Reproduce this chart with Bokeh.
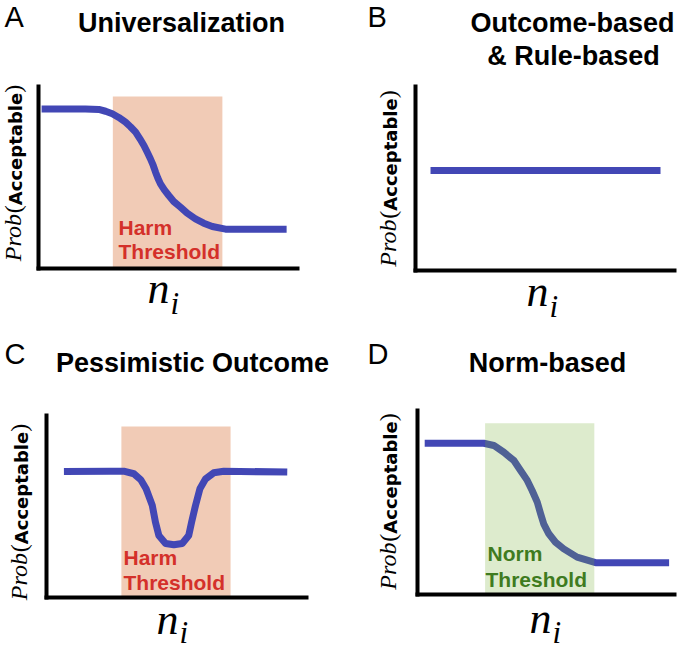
import math
from bokeh.plotting import figure
from bokeh.models import Range1d, Label
from bokeh.layouts import column, row
from bokeh.embed import file_html
from bokeh.resources import INLINE

# ---------------- data (x: 0..100 along n_i, y: 0..100 Prob(Acceptable)) ----------------
# A: Universalization
universal_x = [1.2, 18.1, 23.3, 25.9, 28.5, 31.0, 33.6, 35.5, 37.5, 39.1, 40.7, 42.0, 43.2, 44.3,
               45.2, 46.1, 47.1, 48.6, 50.3, 52.2, 54.8, 57.4, 60.6, 63.8, 67.1, 72.2, 95.8]
universal_y = [87.7, 87.7, 87.4, 86.4, 85.0, 83.0, 80.4, 77.9, 74.9, 71.4, 67.6, 63.9, 60.3, 56.6,
               52.9, 49.6, 46.5, 43.2, 40.1, 36.8, 33.7, 30.4, 27.3, 24.9, 23.1, 21.6, 21.6]
harm_a_left, harm_a_right, harm_a_top = [28.7], [71.0], [94.5]

# B: Outcome-based & Rule-based
flat_x = [5.8, 94.6]
flat_y = [54.3, 54.3]

# C: Pessimistic Outcome
pessimistic_x = [6.7, 24.6, 29.7, 33.6, 36.2, 38.3, 40.7, 41.9, 43.2, 45.8, 49.0, 52.2,
                 54.7, 55.8, 57.3, 59.0, 61.2, 64.3, 68.2, 92.6]
pessimistic_y = [69.2, 69.4, 69.4, 68.0, 64.8, 59.7, 50.5, 41.4, 34.1, 29.7, 29.0, 29.7,
                 34.1, 41.4, 50.5, 59.7, 65.2, 68.5, 69.4, 68.9]
harm_c_left, harm_c_right, harm_c_top = [28.8], [70.8], [94.0]

# D: Norm-based
norm_x = [2.8, 24.6, 25.8, 29.7, 33.6, 37.5, 40.1, 42.7, 44.6, 46.6, 47.9, 49.1, 51.1,
          53.7, 56.9, 62.1, 69.3, 97.9]
norm_y = [82.2, 82.2, 82.2, 81.0, 77.3, 72.8, 67.4, 62.0, 56.5, 50.2, 43.9, 38.4, 33.0,
          28.4, 24.8, 20.3, 17.3, 17.3]
norm_band_left, norm_band_right, norm_band_top = [26.3], [68.8], [93.1]

# axes of every panel (0..100 in both directions)
axis_x0, axis_y0, axis_x1, axis_y1 = [0, 0], [0, 0], [100, 0], [0, 100]

titles = {"A": ["Universalization"], "B": ["Outcome-based", "& Rule-based"],
          "C": ["Pessimistic Outcome"], "D": ["Norm-based"]}
band_texts = {"A": ["Harm", "Threshold"], "C": ["Harm", "Threshold"], "D": ["Norm", "Threshold"]}

# ---------------- styles ----------------
BLUE = "#4247B5"
PEACH = "#F1CBB6"
RED = "#D4302A"
GREEN_FILL = "#77AF37"
GREEN_TEXT = "#3F7B1F"
SANS = "Liberation Sans"
SERIF = "Liberation Serif"
BASELINE_FIX = 0.38   # em; compensates Bokeh's placement of the label baseline

# panel geometry in page pixels (figure origin/size, axis extents)
GEOM = {
    "A": dict(ox=0, oy=0, w=340, h=325, L=38, R=297, T=86, B=268),
    "B": dict(ox=340, oy=0, w=337, h=325, L=415, R=674, T=86, B=270),
    "C": dict(ox=0, oy=325, w=340, h=326, L=46, R=306, T=415, B=597),
    "D": dict(ox=340, oy=325, w=337, h=326, L=417, R=674, T=410, B=594),
}

# text positions (baselines) in page pixels
LAYOUT = {
    "A": dict(letter=(4, 28), title=[(181, 33)], band=[(118, 235), (118, 259)],
              ylab=(22, 172.5), n=(147, 305), i=(170, 315)),
    "B": dict(letter=(367, 28), title=[(572, 33), (573, 66)], band=None,
              ylab=(397, 178), n=(526, 308), i=(549, 318)),
    "C": dict(letter=(4, 365), title=[(192, 373)], band=[(123, 565), (123, 590)],
              ylab=(28, 511.5), n=(156, 636), i=(179, 644)),
    "D": dict(letter=(367, 365), title=[(547, 373)], band=[(487, 561), (485, 587)],
              ylab=(397, 501), n=(529, 635), i=(552, 644)),
}


def make_panel(key):
    g = GEOM[key]
    sx = (g["R"] - g["L"]) / 100.0
    sy = (g["B"] - g["T"]) / 100.0
    x0 = (g["ox"] - g["L"]) / sx
    x1 = (g["ox"] + g["w"] - g["L"]) / sx
    y0 = (g["B"] - (g["oy"] + g["h"])) / sy
    y1 = (g["B"] - g["oy"]) / sy
    p = figure(width=g["w"], height=g["h"], x_range=Range1d(x0, x1), y_range=Range1d(y0, y1),
               output_backend="svg", toolbar_location=None,
               x_axis_type=None, y_axis_type=None,
               min_border=0, min_border_left=0, min_border_right=0,
               min_border_top=0, min_border_bottom=0,
               outline_line_color=None, background_fill_color="white", border_fill_color="white")
    p.grid.visible = False
    return p


def draw_axes(p):
    p.segment(x0=axis_x0, y0=axis_y0, x1=axis_x1, y1=axis_y1,
              line_color="black", line_width=4, line_cap="square")


def to_data(key, px, py):
    g = GEOM[key]
    return ((px - g["L"]) / (g["R"] - g["L"]) * 100, (g["B"] - py) / (g["B"] - g["T"]) * 100)


def add_label(p, key, px, py, text, font, size, style="normal", color="black",
              align="left", angle=0.0):
    if angle == 0.0:
        py = py - BASELINE_FIX * size
    else:
        px = px - BASELINE_FIX * size
    x, y = to_data(key, px, py)
    p.add_layout(Label(x=x, y=y, text=text, text_font=font, text_font_size=f"{size}px",
                       text_font_style=style, text_color=color, text_align=align,
                       text_baseline="alphabetic", angle=angle))


def decorate(p, key, band_color=None):
    lay = LAYOUT[key]
    add_label(p, key, lay["letter"][0], lay["letter"][1], key, SANS, 29)
    for (tx, ty), t in zip(lay["title"], titles[key]):
        add_label(p, key, tx, ty, t, SANS, 27, style="bold", align="center")
    if lay["band"]:
        for (bx, by), t in zip(lay["band"], band_texts[key]):
            add_label(p, key, bx, by, t, SANS, 21, style="bold", color=band_color)
    # rotated y label: Prob(Acceptable)
    pieces = [("Prob", SERIF, "italic", 24, 2.000), ("(", SERIF, "normal", 24, 0.333),
              ("Acceptable", "DejaVu Sans", "bold", 18, 6.244), (")", SERIF, "normal", 24, 0.333)]
    total = sum(s * w for _, _, _, s, w in pieces)
    bx, cy = lay["ylab"]
    cur = cy + total / 2
    for t, f, st, s, w in pieces:
        add_label(p, key, bx, cur, t, f, s, style=st, angle=math.pi / 2)
        cur -= s * w
    # x label n_i
    add_label(p, key, lay["n"][0], lay["n"][1], "n", SERIF, 44, style="italic")
    add_label(p, key, lay["i"][0], lay["i"][1], "i", SERIF, 31, style="italic")


# A
pA = make_panel("A")
pA.quad(left=harm_a_left, right=harm_a_right, bottom=[0], top=harm_a_top,
        fill_color=PEACH, line_color=None)
pA.line(universal_x, universal_y, line_color=BLUE, line_width=7, line_cap="butt", line_join="round")
draw_axes(pA)
decorate(pA, "A", RED)

# B
pB = make_panel("B")
pB.line(flat_x, flat_y, line_color=BLUE, line_width=7, line_cap="butt")
draw_axes(pB)
decorate(pB, "B")

# C
pC = make_panel("C")
pC.quad(left=harm_c_left, right=harm_c_right, bottom=[0], top=harm_c_top,
        fill_color=PEACH, line_color=None)
pC.line(pessimistic_x, pessimistic_y, line_color=BLUE, line_width=7, line_cap="butt", line_join="round")
draw_axes(pC)
decorate(pC, "C", RED)

# D
pD = make_panel("D")
pD.line(norm_x, norm_y, line_color=BLUE, line_width=7, line_cap="butt", line_join="round")
pD.quad(left=norm_band_left, right=norm_band_right, bottom=[0], top=norm_band_top,
        fill_color=GREEN_FILL, fill_alpha=0.25, line_color=None)
draw_axes(pD)
decorate(pD, "D", GREEN_TEXT)

layout = column(row(pA, pB, spacing=0), row(pC, pD, spacing=0), spacing=0)

open("out.html", "w").write(file_html(layout, INLINE))
